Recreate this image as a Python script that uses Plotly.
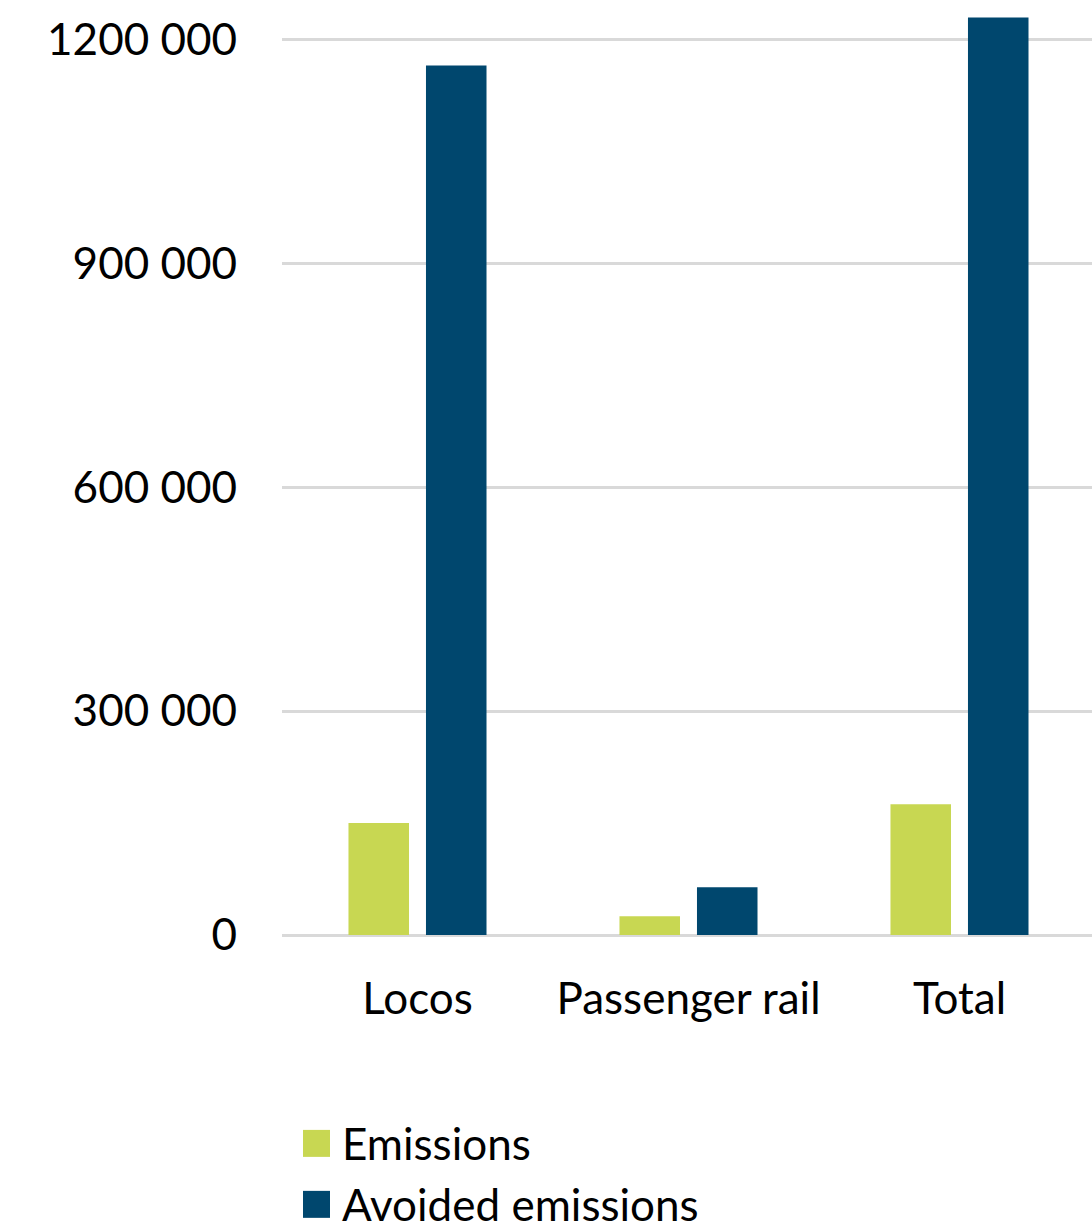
import plotly.graph_objects as go

categories = ["Locos", "Passenger rail", "Total"]
emissions = [150000, 25000, 175000]
avoided = [1165000, 64000, 1229000]
tick_vals = [0, 300000, 600000, 900000, 1200000]
tick_text = ["0", "300 000", "600 000", "900 000", "1200 000"]
series_names = ["Emissions", "Avoided emissions"]
colors = ["#C8D752", "#00476E"]

W, H = 1092, 1225
L, R, T, B = 282, 0, 0, 289.5
FONT = "Lato"
FS = 44

fig = go.Figure()
fig.add_trace(go.Bar(x=categories, y=emissions, name=series_names[0],
                     marker=dict(color=colors[0], line=dict(width=0)), showlegend=False))
fig.add_trace(go.Bar(x=categories, y=avoided, name=series_names[1],
                     marker=dict(color=colors[1], line=dict(width=0)), showlegend=False))

pw = W - L - R
ph = H - T - B

def px_x(px):
    return (px - L) / pw

def px_y(py):
    return (H - B - py) / ph

# legend drawn manually
legend_rows = [(1144, colors[0], series_names[0]), (1205, colors[1], series_names[1])]
shapes = []
annotations = []
for cy, col, name in legend_rows:
    shapes.append(dict(type="rect", xref="paper", yref="paper",
                       x0=px_x(303), x1=px_x(330), y0=px_y(cy - 13.5), y1=px_y(cy + 13.5),
                       fillcolor=col, line=dict(width=0)))
    annotations.append(dict(xref="paper", yref="paper", x=px_x(340), y=px_y(cy),
                            xanchor="left", yanchor="middle", text=name, showarrow=False,
                            font=dict(family=FONT, size=FS, color="#000000")))

fig.update_layout(
    width=W, height=H,
    margin=dict(l=L, r=R, t=T, b=B, pad=0),
    paper_bgcolor="white", plot_bgcolor="white",
    barmode="group", bargap=0.428, bargroupgap=0.219,
    font=dict(family=FONT, size=FS, color="#000000"),
    shapes=shapes, annotations=annotations,
    xaxis=dict(range=[-0.5, 2.489], showgrid=False, showline=False, ticks="",
               ticklabelstandoff=34, tickfont=dict(family=FONT, size=FS, color="#000000")),
    yaxis=dict(range=[0, 1252600], tickvals=tick_vals, ticktext=tick_text,
               showgrid=True, gridcolor="#D9D9D9", gridwidth=3,
               zeroline=True, zerolinecolor="#D9D9D9", zerolinewidth=3,
               showline=False, ticks="", ticklabelstandoff=44,
               tickfont=dict(family=FONT, size=FS, color="#000000")),
)

fig.write_html("out.html")
